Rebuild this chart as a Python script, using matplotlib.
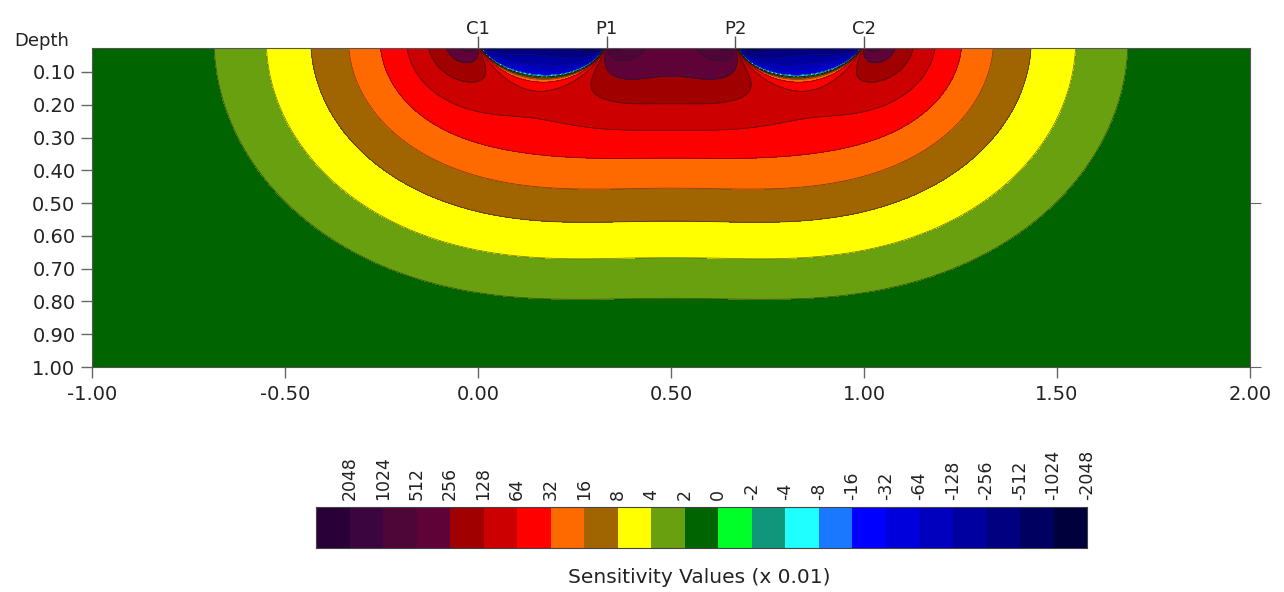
import numpy as np
import matplotlib

matplotlib.use("Agg")

import matplotlib.pyplot as plt
from matplotlib.colors import ListedColormap, BoundaryNorm

plt.rcParams["font.family"] = ["DejaVu Sans"]
plt.rcParams["axes.unicode_minus"] = False

# Wenner array electrodes on the surface
ELECTRODE_NAMES = ["C1", "P1", "P2", "C2"]
ELECTRODE_X = [0.0, 0.333, 0.667, 1.0]
# (current, potential, sign) for each pole-pole term of the four-electrode array
PAIRS = [(0, 1, 1.0), (0, 2, -1.0), (3, 1, -1.0), (3, 2, 1.0)]
VALUE_UNIT = 0.01

# contour levels (x 0.01), listed as on the scale from left to right
LEVEL_LABELS = ["2048", "1024", "512", "256", "128", "64", "32", "16", "8", "4", "2", "0",
                "-2", "-4", "-8", "-16", "-32", "-64", "-128", "-256", "-512", "-1024", "-2048"]
# one colour per box, left (largest) to right (most negative)
BOX_COLORS = ["#2a0038", "#3b0640", "#4e0638", "#5e0238", "#a00000", "#cc0000",
              "#ff0000", "#ff6a00", "#a06400", "#ffff00", "#68a010", "#006400",
              "#00ff28", "#10967a", "#20ffff", "#1a78ff", "#0000ff", "#0000dc",
              "#0000be", "#0000a0", "#000080", "#000060", "#00003c"]

X_TICKS = [-1.0, -0.5, 0.0, 0.5, 1.0, 1.5, 2.0]
DEPTH_TICKS = [0.1, 0.2, 0.3, 0.4, 0.5, 0.6, 0.7, 0.8, 0.9, 1.0]
DEPTH_RANGE = (0.027, 1.0)


def pole_pole_2d(x, z, xa, xm, y):
    """2-D sensitivity of a pole-pole pair, integrated along strike."""
    x1 = x[:, None] - xa
    x2 = x[:, None] - xm
    yy = y[None, :] ** 2 + z ** 2
    num = x1 * x2 + yy
    den = ((x1 ** 2 + yy) * (x2 ** 2 + yy)) ** 1.5
    f = num / den / (4 * np.pi ** 2)
    return 2 * np.trapezoid(f, y, axis=1)


def wenner_section(x, z):
    y = np.concatenate(([0.0], np.geomspace(1e-4, 100, 900)))
    field = np.zeros((len(z), len(x)))
    for i, depth in enumerate(z):
        for a, m, sign in PAIRS:
            field[i] += sign * pole_pole_2d(x, depth, ELECTRODE_X[a], ELECTRODE_X[m], y)
    return field


x = np.linspace(-1.0, 2.0, 721)
z = np.linspace(0.015, 1.0, 300)
values = wenner_section(x, z) / VALUE_UNIT

levels = [float(v) for v in LEVEL_LABELS][::-1]
cmap = ListedColormap(BOX_COLORS[1:][::-1])
cmap.set_over(BOX_COLORS[0])
cmap.set_under(BOX_COLORS[-1])
norm = BoundaryNorm(levels, cmap.N)

fig = plt.figure(figsize=(12.84, 5.92), dpi=100)
ax = fig.add_axes([0.0717, 0.380, 0.9018, 0.5389])
ax.contourf(x, z, values, levels=levels, cmap=cmap, norm=norm, extend="both")
ax.contour(x, z, values, levels=levels, colors="#1a1a1a", linewidths=0.6, alpha=0.55)
ax.set_xlim(-1.0, 2.0)
ax.set_ylim(DEPTH_RANGE[1], DEPTH_RANGE[0])
for spine in ax.spines.values():
    spine.set_color("#555555")

ax.set_xticks(X_TICKS)
ax.set_xticklabels([f"{v:.2f}" for v in X_TICKS], fontsize=14, color="#222222")
ax.set_yticks(DEPTH_TICKS)
ax.set_yticklabels([f"{v:.2f}" for v in DEPTH_TICKS], fontsize=14, color="#222222")
ax.tick_params(axis="both", direction="out", length=8, width=1, color="#666666", pad=4)
ax.tick_params(axis="x", pad=5)

right = ax.secondary_yaxis("right")
right.set_yticks([0.5, 1.0])
right.set_yticklabels([])
right.tick_params(direction="out", length=8, color="#666666")
right.spines["right"].set_visible(False)

top = ax.secondary_xaxis("top")
top.set_xticks(ELECTRODE_X)
top.set_xticklabels(ELECTRODE_NAMES, fontsize=13, color="#222222")
top.tick_params(direction="out", length=9, width=1, pad=-2, color="#555555")
top.spines["top"].set_visible(False)

fig.text(0.011, 0.930, "Depth", fontsize=13, ha="left", va="center", color="#222222")

cax = fig.add_axes([0.2461, 0.0743, 0.6005, 0.0693])
cax.pcolormesh(np.arange(len(BOX_COLORS) + 1), [0, 1], np.arange(len(BOX_COLORS))[None, :],
               cmap=ListedColormap(BOX_COLORS))
cax.set_xlim(0, len(BOX_COLORS))
cax.set_yticks([])
cax.xaxis.set_ticks_position("top")
cax.set_xticks(np.arange(1, len(BOX_COLORS) + 1))
cax.set_xticklabels(LEVEL_LABELS, rotation=90, fontsize=12.5, color="#222222")
cax.tick_params(length=0, pad=5)
for spine in cax.spines.values():
    spine.set_color("#444444")
fig.text(0.5445, 0.025, "Sensitivity Values (x 0.01)", fontsize=14.5, ha="center", va="center",
         color="#222222")

fig.savefig("out.png", dpi=100)
